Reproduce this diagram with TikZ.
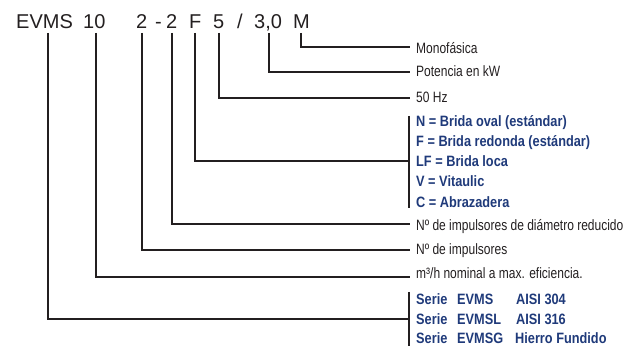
\documentclass[tikz,border=0pt]{standalone}
\usepackage{fontspec}
\setmainfont{Liberation Sans}
\newfontfamily\labfont[FakeStretch=0.8]{Liberation Sans}
\newfontfamily\optfont[FakeStretch=0.85]{Liberation Sans}
\definecolor{optblue}{RGB}{31,58,122}
\definecolor{ink}{RGB}{35,31,32}
\begin{document}
\begin{tikzpicture}[x=1pt,y=-1pt,
  code/.style={anchor=base west,inner sep=0pt,font=\fontsize{20}{24}\selectfont,text=ink},
  lab/.style={anchor=base west,inner sep=0pt,font=\labfont\fontsize{15}{18}\selectfont,text=ink},
  opt/.style={anchor=base west,inner sep=0pt,font=\optfont\bfseries\fontsize{15}{18}\selectfont,text=optblue},
  lead/.style={draw=ink,line width=1.3pt},
]
\useasboundingbox (0,0) rectangle (625,347);

% code string
\node[code] (tEVMS) at (16,28.3) {EVMS};
\node[code] (t10) at (83,28.3) {10};
\node[code] (t2a) at (136,28.3) {2};
\node[code] (tdash) at (155,28.3) {-};
\node[code] (t2b) at (166,28.3) {2};
\node[code] (tF) at (189,28.3) {F};
\node[code] (t5) at (213,28.3) {5};
\node[code] (tslash) at (237,28.3) {/};
\node[code] (t30) at (254,28.3) {3,0};
\node[code] (tM) at (293,28.3) {M};

% labels
\node[lab] (lM) at (416,53.3) {Monofásica};
\node[lab] (lP) at (416,76.7) {Potencia en kW};
\node[lab] (lHz) at (416,102.7) {50 Hz};
\node[opt] (oN) at (416,126.7) {N = Brida oval (estándar)};
\node[opt] (oF) at (416,147) {F = Brida redonda (estándar)};
\node[opt] (oLF) at (416,167) {LF = Brida loca};
\node[opt] (oV) at (416,187) {V = Vitaulic};
\node[opt] (oC) at (416,207.3) {C = Abrazadera};
\node[lab] (lD) at (416,230.5) {Nº de impulsores de diámetro reducido};
\node[lab] (lI) at (416,255) {Nº de impulsores};
\node[lab] (lQ) at (416,279) {m³/h nominal a max. eficiencia.};
\node[opt] (s1) at (416,305) {\makebox[41pt][l]{Serie}\makebox[59pt][l]{EVMS}AISI 304};
\node[opt] (s2) at (416,324.5) {\makebox[41pt][l]{Serie}\makebox[59pt][l]{EVMSL}AISI 316};
\node[opt] (s3) at (416,344) {\makebox[41pt][l]{Serie}\makebox[58pt][l]{EVMSG}Hierro Fundido};

% tick tops
\coordinate (aEVMS) at (48,33);
\coordinate (a10) at (96,33);
\coordinate (a2a) at (142,33);
\coordinate (a2b) at (172,33);
\coordinate (aF) at (195,33);
\coordinate (a5) at (219,33);
\coordinate (a30) at (269,33);
\coordinate (aM) at (301,33);
% line ends
\coordinate (eM) at (410,47);
\coordinate (eP) at (410,72);
\coordinate (eHz) at (410,98);
\coordinate (eF) at (409,161);
\coordinate (eD) at (410,224);
\coordinate (eI) at (410,250);
\coordinate (eQ) at (410,277);
\coordinate (eS) at (409,319);
% brackets
\coordinate (bOtop) at (409,116);
\coordinate (bObot) at (409,208);
\coordinate (bStop) at (409,292);
\coordinate (bSbot) at (409,346);

\draw[lead] (aM) |- (eM);
\draw[lead] (a30) |- (eP);
\draw[lead] (a5) |- (eHz);
\draw[lead] (aF) |- (eF);
\draw[lead] (a2b) |- (eD);
\draw[lead] (a2a) |- (eI);
\draw[lead] (a10) |- (eQ);
\draw[lead] (aEVMS) |- (eS);
\draw[lead] (bOtop) -- (bObot);
\draw[lead] (bStop) -- (bSbot);
\end{tikzpicture}
\end{document}
